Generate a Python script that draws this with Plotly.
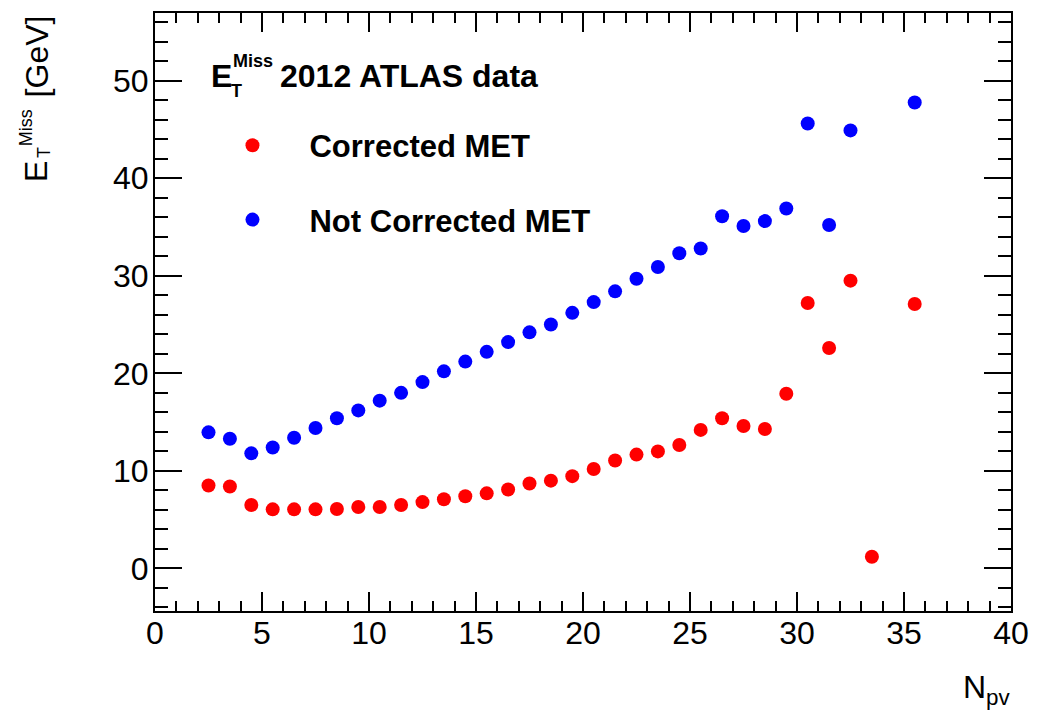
import plotly.graph_objects as go

# Number of primary vertices (bin centres)
npv_corrected = [2.5, 3.5, 4.5, 5.5, 6.5, 7.5, 8.5, 9.5, 10.5, 11.5, 12.5, 13.5,
                 14.5, 15.5, 16.5, 17.5, 18.5, 19.5, 20.5, 21.5, 22.5, 23.5, 24.5,
                 25.5, 26.5, 27.5, 28.5, 29.5, 30.5, 31.5, 32.5, 33.5, 35.5]
met_corrected = [8.5, 8.4, 6.5, 6.06, 6.06, 6.06, 6.1, 6.3, 6.3, 6.5, 6.8, 7.1,
                 7.4, 7.7, 8.1, 8.7, 9.0, 9.46, 10.2, 11.06, 11.67, 12.0, 12.66,
                 14.2, 15.4, 14.6, 14.3, 17.9, 27.2, 22.6, 29.5, 1.2, 27.1]

npv_uncorrected = [2.5, 3.5, 4.5, 5.5, 6.5, 7.5, 8.5, 9.5, 10.5, 11.5, 12.5, 13.5,
                   14.5, 15.5, 16.5, 17.5, 18.5, 19.5, 20.5, 21.5, 22.5, 23.5, 24.5,
                   25.5, 26.5, 27.5, 28.5, 29.5, 30.5, 31.5, 32.5, 35.5]
met_uncorrected = [13.95, 13.3, 11.8, 12.4, 13.4, 14.4, 15.4, 16.2, 17.2, 18.0, 19.1, 20.2,
                   21.2, 22.2, 23.2, 24.2, 25.0, 26.2, 27.3, 28.4, 29.7, 30.9, 32.3,
                   32.8, 36.1, 35.1, 35.6, 36.9, 45.6, 35.2, 44.9, 47.75]

W, H = 1040, 712
ML, MR, MT, MB = 155, 18, 11, 101
PW, PH = W - ML - MR, H - MT - MB

FONT = "Liberation Sans, Arial, Helvetica, sans-serif"


def px(x):
    return (x - ML) / PW


def py(y):
    return (H - MB - y) / PH


fig = go.Figure()
fig.add_trace(go.Scatter(
    x=npv_corrected, y=met_corrected, mode="markers", name="Corrected MET",
    legendgroup="a",
    marker=dict(color="#ff0000", size=14, symbol="circle", line=dict(width=0)),
))
fig.add_trace(go.Scatter(
    x=npv_uncorrected, y=met_uncorrected, mode="markers", name="Not Corrected MET",
    legendgroup="b",
    marker=dict(color="#0000ff", size=14, symbol="circle", line=dict(width=0)),
))

axis_common = dict(
    showline=True, linecolor="black", linewidth=2, mirror="allticks",
    ticks="inside", tickcolor="black", tickwidth=1.5,
    showgrid=False, zeroline=False,
    tickfont=dict(family=FONT, size=32, color="black"),
)

fig.update_xaxes(
    range=[0, 40], dtick=5, tick0=0, ticklen=19,
    minor=dict(dtick=1, ticks="inside", ticklen=10, tickcolor="black", tickwidth=1.5),
    ticklabelstandoff=-7,
    **axis_common,
)
fig.update_yaxes(
    range=[-4.36, 56.93], dtick=10, tick0=0, ticklen=27,
    minor=dict(dtick=2, ticks="inside", ticklen=13, tickcolor="black", tickwidth=1.5),
    ticklabelstandoff=-2,
    **axis_common,
)

annotations = []
# y-axis title: E_T^Miss [GeV], rotated
annotations += [
    dict(text="E", x=px(35), y=py(170), font=dict(size=32)),
    dict(text="Miss", x=px(24), y=py(126), font=dict(size=18)),
    dict(text="T", x=px(42), y=py(151), font=dict(size=18)),
    dict(text="[GeV]", x=px(35), y=py(55), font=dict(size=32)),
]
for a in annotations:
    a.update(textangle=-90, xanchor="center", yanchor="middle")

# x-axis title
annotations.append(dict(text="N<sub>pv</sub>", x=px(1024), y=py(690),
                        xanchor="right", yanchor="middle", font=dict(size=32)))

# header label
annotations += [
    dict(text="<b>E</b>", x=px(210), y=py(74), xanchor="left", yanchor="middle",
         font=dict(size=32)),
    dict(text="<b>Miss</b>", x=px(232), y=py(59), xanchor="left", yanchor="middle",
         font=dict(size=18)),
    dict(text="<b>T</b>", x=px(230), y=py(89), xanchor="left", yanchor="middle",
         font=dict(size=18)),
    dict(text="<b>2012 ATLAS data</b>", x=px(280), y=py(74), xanchor="left",
         yanchor="middle", font=dict(size=32)),
]

for a in annotations:
    a.update(xref="paper", yref="paper", showarrow=False)
    a["font"].update(family=FONT, color="black")

fig.update_layout(
    width=W, height=H,
    margin=dict(l=ML, r=MR, t=MT, b=MB, pad=0),
    paper_bgcolor="white", plot_bgcolor="white",
    annotations=annotations,
    showlegend=True,
    legend=dict(
        x=px(196), y=py(117), xanchor="left", yanchor="top",
        font=dict(family=FONT, size=31, color="black", weight="bold"),
        bgcolor="rgba(0,0,0,0)", borderwidth=0,
        itemwidth=104, tracegroupgap=31,
    ),
)

fig.write_html("out.html")
